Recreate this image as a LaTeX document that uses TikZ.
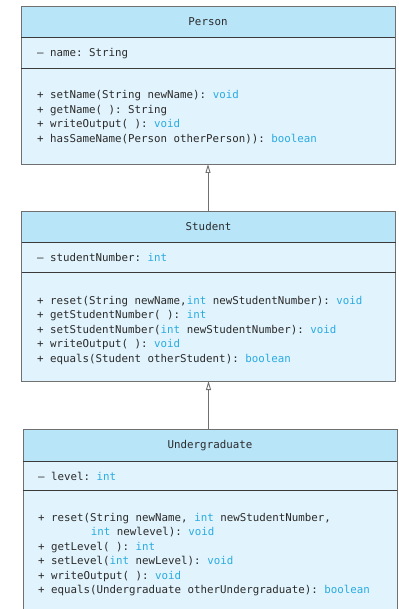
\documentclass[tikz,border=0pt]{standalone}
\usepackage{fontspec}
\setmonofont{DejaVu Sans Mono}
\usetikzlibrary{arrows.meta}
\definecolor{hdrbg}{HTML}{B9E5F9}
\definecolor{bodybg}{HTML}{E1F3FC}
\definecolor{kwcol}{HTML}{29ABE2}
\definecolor{edgecol}{HTML}{707070}
\definecolor{sepcol}{HTML}{3A3A3A}
\definecolor{txtcol}{HTML}{2A2A2A}
\newcommand{\kwd}[1]{\textcolor{kwcol}{#1}}
\newcommand{\umlfont}{\ttfamily\fontsize{10.8}{13}\selectfont}
\tikzset{
  cell/.style={draw=edgecol, line width=0.9pt, anchor=north west, inner sep=0pt, outer sep=0pt, minimum width=374pt},
  hdr/.style={cell, fill=hdrbg, font=\umlfont, text=txtcol},
  body/.style={cell, fill=bodybg},
  mline/.style={anchor=base west, inner sep=0pt, font=\umlfont, text=txtcol},
  sepline/.style={draw=sepcol, line width=0.9pt},
  inh/.style={draw=edgecol, line width=0.9pt, -{Triangle[open,length=9pt,width=5pt]}},
}
\begin{document}
\begin{tikzpicture}[x=1pt,y=-1pt]
\useasboundingbox (0,0) rectangle (398,609);
\fill[white] (0,0) rectangle (398,609);
% Person
\node[hdr, minimum height=31pt] (ph) at (21,6) {Person};
\node[body, minimum height=31pt] (pa) at (21,37) {};
\node[body, minimum height=96pt] (pm) at (21,68) {};
\draw[sepline] (pa.north west) -- (pa.north east);
\draw[sepline] (pm.north west) -- (pm.north east);
\node[mline] (pa1) at (37,57) {– name: String};
\node[mline] (pm1) at (37,99) {+ setName(String newName): \kwd{void}};
\node[mline] (pm2) at (37,113.5) {+ getName( ): String};
\node[mline] (pm3) at (37,128) {+ writeOutput( ): \kwd{void}};
\node[mline] (pm4) at (37,142.5) {+ hasSameName(Person otherPerson)): \kwd{boolean}};
% Student
\node[hdr, minimum height=31pt] (sh) at (21.5,211) {Student};
\node[body, minimum height=30pt] (sa) at (21.5,242) {};
\node[body, minimum height=109pt] (sm) at (21.5,272) {};
\draw[sepline] (sa.north west) -- (sa.north east);
\draw[sepline] (sm.north west) -- (sm.north east);
\node[mline] (sa1) at (37,261) {– studentNumber: \kwd{int}};
\node[mline] (sm1) at (37,304) {+ reset(String newName,\kwd{int} newStudentNumber): \kwd{void}};
\node[mline] (sm2) at (37,318.5) {+ getStudentNumber( ): \kwd{int}};
\node[mline] (sm3) at (37,333) {+ setStudentNumber(\kwd{int} newStudentNumber): \kwd{void}};
\node[mline] (sm4) at (37,347.5) {+ writeOutput( ): \kwd{void}};
\node[mline] (sm5) at (37,362) {+ equals(Student otherStudent): \kwd{boolean}};
% Undergraduate
\node[hdr, minimum height=31.5pt] (uh) at (23,429.5) {Undergraduate};
\node[body, minimum height=29pt] (ua) at (23,461) {};
\node[body, minimum height=140pt] (um) at (23,490) {};
\draw[sepline] (ua.north west) -- (ua.north east);
\draw[sepline] (um.north west) -- (um.north east);
\node[mline] (ua1) at (38,480) {– level: \kwd{int}};
\node[mline] (um1) at (38,521) {+ reset(String newName, \kwd{int} newStudentNumber,};
\node[mline] (um1b) at (90.7,535.5) {\kwd{int} newlevel): \kwd{void}};
\node[mline] (um2) at (38,550) {+ getLevel( ): \kwd{int}};
\node[mline] (um3) at (38,564.5) {+ setLevel(\kwd{int} newLevel): \kwd{void}};
\node[mline] (um4) at (38,579) {+ writeOutput( ): \kwd{void}};
\node[mline] (um5) at (38,593.5) {+ equals(Undergraduate otherUndergraduate): \kwd{boolean}};
% inheritance connectors
\draw[inh] (sh.north -| pm.south) -- (pm.south);
\draw[inh] (uh.north -| sm.south) -- (sm.south);
\end{tikzpicture}
\end{document}
